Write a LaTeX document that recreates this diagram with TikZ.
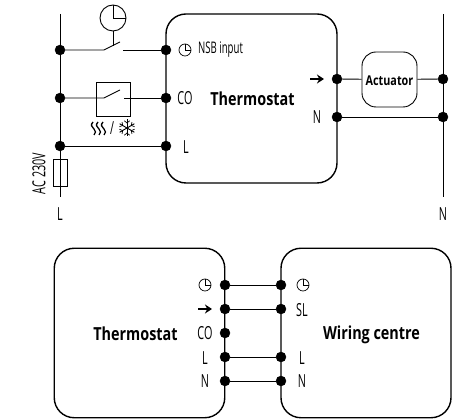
\documentclass[tikz,border=0pt]{standalone}
\usepackage{fontspec}
\setmainfont[FakeStretch=0.6]{Open Sans}
\newfontfamily\titlefont[FakeStretch=0.8]{Open Sans}
\usetikzlibrary{arrows.meta}
\tikzset{
dot/.style={shape=circle, draw=black, fill=black, inner sep=0pt, minimum size=10pt},
unit/.style={shape=rectangle, draw=black, line width=1.4pt, rounded corners=20pt, inner sep=0pt},
wire/.style={line width=0.9pt},
tag/.style={inner sep=0pt, font=\fontsize{18}{18}\selectfont},
title/.style={inner sep=0pt, font=\fontsize{18}{18}\selectfont\titlefont\bfseries},
clockface/.style={shape=circle, draw=black, line width=0.7pt, inner sep=0pt, minimum size=12pt},
feed/.style={-{Stealth[length=7pt,width=9pt]}, line width=2.2pt}}

\begin{document}
\begin{tikzpicture}[x=1pt,y=-1pt]
    \useasboundingbox (0,0) rectangle (459,419);

    % top circuit
    \node[unit, minimum width=171pt, minimum height=169pt] (box) at (251.5,98.5) {};
    \node[unit, rounded corners=14pt, line width=0.9pt, minimum width=55pt, minimum height=55pt] (act) at (389.5,79.5) {};
    \node[title, font=\fontsize{13.5}{13.5}\selectfont\titlefont\bfseries] (actlabel) at (389.5,80.5) {Actuator};

    \coordinate (ltop) at (60,14);
    \coordinate (lbot) at (60,197);
    \coordinate (ntop) at (443,14);
    \coordinate (nbot) at (443,197);
    \node[dot] (L1) at (60,50) {};
    \node[dot] (L2) at (60,98) {};
    \node[dot] (L3) at (60,146) {};
    \node[dot] (T1) at (166,50) {};
    \node[dot] (T2) at (166,98) {};
    \node[dot] (T3) at (166,146) {};
    \node[dot] (T4) at (337,79) {};
    \node[dot] (T5) at (337,117) {};
    \node[dot] (N1) at (443,79) {};
    \node[dot] (N2) at (443,117) {};

    \draw[wire] (ltop) -- (lbot);
    \draw[wire] (ntop) -- (nbot);
    \draw[wire] (L3) -- (T3);
    \draw[wire] (T4) -- (act);
    \draw[wire] (act) -- (N1);
    \draw[wire] (T5) -- (N2);

    % time switch
    \node[shape=circle, draw=black, line width=0.9pt, fill=white, minimum size=26pt, inner sep=0pt] (timer) at (113,18) {};
    \draw[wire] (timer.north) -- (timer.center) -- (timer.east);
    \coordinate (s1a) at (104,50);
    \coordinate (s1b) at (120,42);
    \coordinate (s1c) at (123,50);
    \coordinate (s1m) at (113,46);
    \draw[wire] (L1) -- (s1a) -- (s1b);
    \draw[wire] (s1c) -- (T1);
    \draw[wire] (timer) -- (s1m);

    % heating / cooling switch
    \node[shape=rectangle, draw=black, line width=0.9pt, minimum size=34pt, inner sep=0pt] (cobox) at (113,99) {};
    \coordinate (s2a) at (104,98);
    \coordinate (s2b) at (120,90);
    \coordinate (s2c) at (124,98);
    \draw[wire] (L2) -- (s2a) -- (s2b);
    \draw[wire] (s2c) -- (T2);
    \foreach \wx in {93,98,103} {
        \draw[line width=1.3pt] (\wx,122) .. controls (\wx-3,125) and (\wx-1,127) .. (\wx+1,129) .. controls (\wx+3,131) and (\wx+3,133) .. (\wx+1,135);
    }
    \node[tag] (slash) at (112,128.5) {/};
    \coordinate (flake) at (127,128);
    \foreach \ang in {30,90,150,210,270,330} {
        \draw[line width=0.9pt] (flake) -- ++(\ang:8.5pt);
        \draw[line width=0.7pt] (flake) ++(\ang:5pt) -- ++(\ang+50:3.5pt);
        \draw[line width=0.7pt] (flake) ++(\ang:5pt) -- ++(\ang-50:3.5pt);
    }

    % fuse
    \node[shape=rectangle, draw=black, line width=0.8pt, minimum width=14pt, minimum height=27pt, inner sep=0pt] (fuse) at (60,172.5) {};
    \node[tag, rotate=90] (ac) at (39,173.5) {AC 230V};
    \node[tag] (Llabel) at (60,214.5) {L};
    \node[tag] (Nlabel) at (443,214.5) {N};

    % labels on the thermostat
    \node[clockface] (c1) at (185,50) {};
    \node[tag, font=\fontsize{16}{16}\selectfont, anchor=west] (nsb) at (198,50) {NSB input};
    \node[tag] (co1) at (185,98.5) {CO};
    \node[tag] (l1) at (186,147) {L};
    \node[title] (th1) at (252.5,99) {Thermostat};
    \coordinate (f1a) at (310,79);
    \coordinate (f1b) at (324,79);
    \draw[feed] (f1a) -- (f1b);
    \node[tag] (n1) at (317,117.5) {N};

    % lower pair
    \node[unit, minimum width=170.5pt, minimum height=169.5pt] (thbox) at (139.5,333) {};
    \node[unit, minimum width=170pt, minimum height=169.5pt] (wcbox) at (366,333) {};
    \foreach \name/\py in {a/285,b/309,c/333,d/357,e/381} {
        \node[dot] (P\name) at (225,\py) {};
    }
    \foreach \name/\py in {a/285,b/309,d/357,e/381} {
        \node[dot] (Q\name) at (281,\py) {};
        \draw[wire] (P\name) -- (Q\name);
    }
    \node[clockface] (c2) at (205,285) {};
    \node[clockface] (c3) at (303,285) {};
    \foreach \name in {c1,c2,c3} {
        \draw[line width=0.7pt] (\name.north) -- (\name.center) -- (\name.east);
    }
    \coordinate (f2a) at (198,309);
    \coordinate (f2b) at (212,309);
    \draw[feed] (f2a) -- (f2b);
    \node[tag] (co2) at (205,333.5) {CO};
    \node[tag] (l2) at (205,358) {L};
    \node[tag] (n2) at (205,381.5) {N};
    \node[tag] (sl) at (302,310) {SL};
    \node[tag] (l3) at (302,358) {L};
    \node[tag] (n3) at (302,381.5) {N};
    \node[title] (th2) at (135.5,334) {Thermostat};
    \node[title] (wc) at (371.5,335) {Wiring centre};

\end{tikzpicture}
\end{document}
